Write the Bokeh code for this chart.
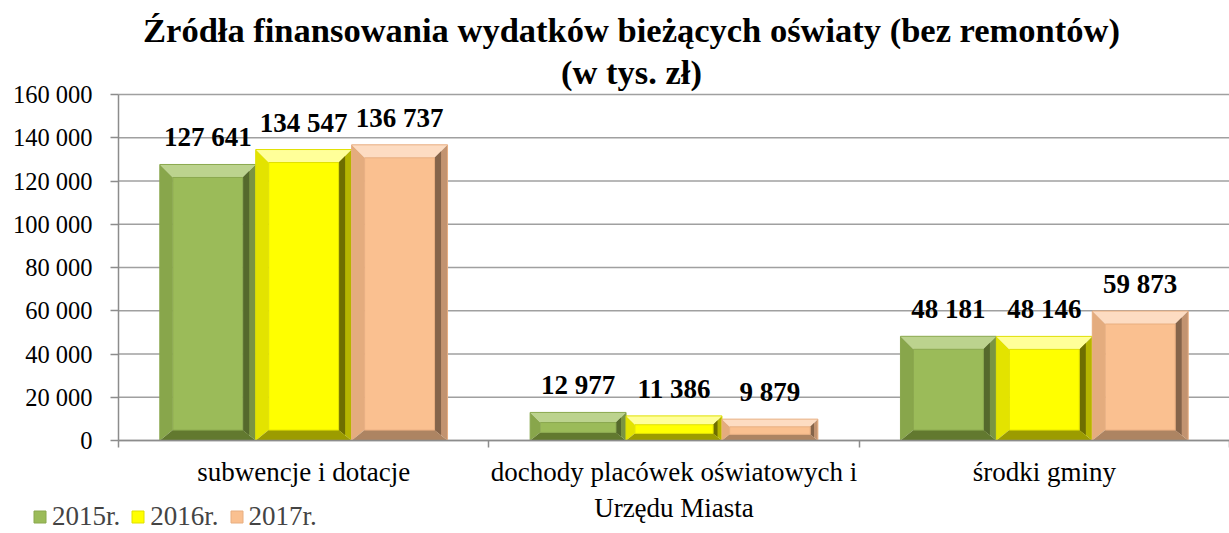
from bokeh.plotting import figure
from bokeh.models import Range1d, FixedTicker, Legend, LegendItem, Label, ColumnDataSource
from bokeh.core.properties import value
from bokeh.embed import file_html
from bokeh.resources import INLINE

# ---------------- data ----------------
categories = ["subwencje i dotacje",
              "dochody placówek oświatowych i\nUrzędu Miasta",
              "środki gminy"]
years = ["2015r.", "2016r.", "2017r."]
v2015 = [127641, 12977, 48181]
v2016 = [134547, 11386, 48146]
v2017 = [136737, 9879, 59873]
y_ticks = [0, 20000, 40000, 60000, 80000, 100000, 120000, 140000, 160000]
title_lines = ["Źródła finansowania wydatków bieżących oświaty (bez remontów)", "(w tys. zł)"]

series = [v2015, v2016, v2017]
palettes = [
    dict(face="#9BBB59", top="#BCD38E", left="#88A64B", right="#55692C", right2="#7A9442", bottom="#62792F", line="#8AA84E"),
    dict(face="#FFFF00", top="#FFFF99", left="#E3E300", right="#6E6E00", right2="#B5B500", bottom="#9C9C00", line="#E0E000"),
    dict(face="#FAC090", top="#FDDCC2", left="#E4AC7E", right="#85644A", right2="#C29370", bottom="#AD8462", line="#E8AE80"),
]

SERIF = "Liberation Serif"
W, H = 1229, 533
AX_L, AX_R = 118, 1229      # x of category 0 / 3
AX_T, AX_B = 94, 440        # y of 160000 / 0
YMAX = 160000
NC = len(categories)
px_x = (AX_R - AX_L) / NC
px_y = (AX_B - AX_T) / YMAX
x0r = -AX_L / px_x
x1r = NC + (W - AX_R) / px_x
y1r = YMAX + AX_T / px_y
y0r = -(H - AX_B) / px_y

p = figure(width=W, height=H, output_backend="svg", toolbar_location=None,
           x_range=Range1d(x0r, x1r), y_range=Range1d(y0r, y1r),
           min_border=0, min_border_left=0, min_border_right=0,
           min_border_top=0, min_border_bottom=0)
p.outline_line_color = None
p.background_fill_color = "white"
p.border_fill_color = "white"
p.xgrid.grid_line_color = None
p.ygrid.grid_line_color = None

GRID = "#A0A0A0"
AXC = "#8C8C8C"
p.segment(x0=[0] * len(y_ticks), x1=[NC] * len(y_ticks), y0=y_ticks, y1=y_ticks,
          line_color=GRID, line_width=1.5)

# y axis
ya = p.yaxis[0]
ya.fixed_location = 0
ya.bounds = (0, YMAX)
ya.ticker = FixedTicker(ticks=y_ticks)
ya.major_label_overrides = {t: f"{t:,}".replace(",", " ") for t in y_ticks}
ya.major_label_text_font = SERIF
ya.major_label_text_font_size = "24.5px"
ya.major_label_text_color = "black"
ya.major_tick_out = 8
ya.major_tick_in = 0
ya.minor_tick_line_color = None
ya.axis_line_color = AXC
ya.axis_line_width = 1.5
ya.major_tick_line_color = AXC
ya.major_tick_line_width = 1.5
ya.major_label_standoff = 18

# x axis
xa = p.xaxis[0]
xa.fixed_location = 0
xa.bounds = (0, NC)
centers = [i + 0.5 for i in range(NC)]
xa.ticker = FixedTicker(ticks=centers, minor_ticks=list(range(NC + 1)))
xa.major_label_overrides = {c: lab for c, lab in zip(centers, categories)}
xa.major_label_text_font = SERIF
xa.major_label_text_font_size = "27px"
xa.major_label_text_color = "black"
xa.major_tick_line_color = None
xa.major_tick_out = 0
xa.major_tick_in = 0
xa.minor_tick_out = 7
xa.minor_tick_in = 0
xa.minor_tick_line_color = AXC
xa.minor_tick_line_width = 1.5
xa.axis_line_color = AXC
xa.axis_line_width = 1.5
xa.major_label_standoff = 9

# bars with bevel
bw = 0.259
offsets = [-bw, 0, bw]
face_renderers = []
for si, (vals, pal, off) in enumerate(zip(series, palettes, offsets)):
    bands = {k: [[], []] for k in ("top", "left", "right", "right2", "bottom", "face")}
    outline = [[], []]
    for ci, v in enumerate(vals):
        x0 = ci + 0.5 + off - bw / 2
        x1 = x0 + bw
        hpx = v * px_y
        bpx = min(13.0, 0.36 * hpx)
        dx = bpx / px_x
        dyt = bpx / px_y
        dyb = 0.8 * bpx / px_y
        bands["top"][0].append([x0, x1, x1 - dx, x0 + dx]); bands["top"][1].append([v, v, v - dyt, v - dyt])
        bands["left"][0].append([x0, x0 + dx, x0 + dx, x0]); bands["left"][1].append([0, dyb, v - dyt, v])
        bands["right2"][0].append([x1, x1 - dx, x1 - dx, x1]); bands["right2"][1].append([0, dyb, v - dyt, v])
        bands["right"][0].append([x1 - dx * 0.5, x1 - dx, x1 - dx, x1 - dx * 0.5]); bands["right"][1].append([dyb * 0.5, dyb, v - dyt, v - dyt * 0.5])
        bands["bottom"][0].append([x0, x1, x1 - dx, x0 + dx]); bands["bottom"][1].append([0, 0, dyb, dyb])
        bands["face"][0].append([x0 + dx, x1 - dx, x1 - dx, x0 + dx]); bands["face"][1].append([dyb, dyb, v - dyt, v - dyt])
        outline[0].append([x0, x1, x1, x0]); outline[1].append([0, 0, v, v])
    for k in ("top", "left", "right2", "right", "bottom"):
        p.patches(xs=bands[k][0], ys=bands[k][1], fill_color=pal[k], line_color=None)
    fr = p.patches(xs=bands["face"][0], ys=bands["face"][1], fill_color=pal["face"],
                   line_color=pal["line"], line_width=1)
    p.patches(xs=outline[0], ys=outline[1], fill_color=None, line_color=pal["line"], line_width=1)
    face_renderers.append(fr)

    src = ColumnDataSource(dict(x=[ci + 0.5 + off for ci in range(len(vals))], y=vals,
                                t=[f"{v:,}".replace(",", " ") for v in vals]))
    p.text(x="x", y="y", text="t", source=src, text_font=value(SERIF),
           text_font_style="bold", text_font_size="27px", text_align="center",
           text_baseline="bottom", y_offset=-12, text_color="black")

# title
for i, line in enumerate(title_lines):
    p.add_layout(Label(x=631, y=H - 29 - i * 42, x_units="screen", y_units="screen",
                       text=line, text_font=SERIF, text_font_style="bold",
                       text_font_size="34.5px", text_align="center", text_baseline="middle",
                       text_color="black"))

legend = Legend(items=[LegendItem(label=y, renderers=[r]) for y, r in zip(years, face_renderers)],
                orientation="horizontal", location=(32, 1),
                label_text_font=SERIF, label_text_font_size="27px",
                glyph_width=15, glyph_height=15, label_standoff=5, spacing=10,
                padding=0, margin=0, border_line_color=None, background_fill_alpha=0)
p.add_layout(legend)

open("out.html", "w").write(file_html(p, INLINE))
